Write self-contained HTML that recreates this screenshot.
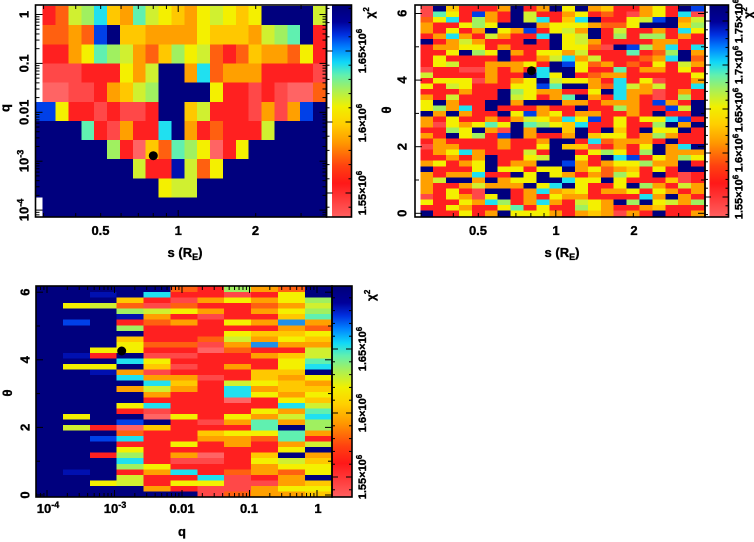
<!DOCTYPE html>
<html><head><meta charset="utf-8">
<style>
html,body{margin:0;padding:0;background:#fff;}
svg{display:block;}
text{font-family:"Liberation Sans",sans-serif;font-weight:bold;fill:#000;stroke:#000;stroke-width:0.35;}
</style></head><body>
<svg id="s" width="754" height="542" viewBox="0 0 754 542" xmlns="http://www.w3.org/2000/svg">
<defs>
<linearGradient id="cb" x1="0" y1="0" x2="0" y2="1">
<stop offset="0" stop-color="#000078"/>
<stop offset="0.08" stop-color="#00009a"/>
<stop offset="0.14" stop-color="#0030e0"/>
<stop offset="0.20" stop-color="#0080ff"/>
<stop offset="0.27" stop-color="#10d8f8"/>
<stop offset="0.33" stop-color="#60f0b0"/>
<stop offset="0.40" stop-color="#a8f058"/>
<stop offset="0.48" stop-color="#f0f000"/>
<stop offset="0.56" stop-color="#ffd000"/>
<stop offset="0.65" stop-color="#ff9800"/>
<stop offset="0.76" stop-color="#ff4010"/>
<stop offset="0.84" stop-color="#ff1818"/>
<stop offset="1" stop-color="#ff6060"/>
</linearGradient>
</defs>
<rect width="754" height="542" fill="#fff"/>
<g id="cells" shape-rendering="crispEdges"></g>
<rect x="332" y="5" width="19.5" height="212" fill="url(#cb)"/>
<rect x="709.5" y="5" width="19" height="212" fill="url(#cb)"/>
<rect x="332" y="286" width="20" height="211" fill="url(#cb)"/>
<g id="ticks" stroke="#000" stroke-width="1"></g>
<g fill="none" stroke="#000" stroke-width="1.6">
<rect x="35.5" y="5" width="291" height="212"/>
<rect x="326.5" y="5" width="25" height="212"/>
<rect x="415" y="5" width="290" height="212"/>
<rect x="705" y="5" width="23.5" height="212"/>
<rect x="36" y="286" width="296" height="211"/>
<rect x="332" y="286" width="20" height="211"/>
</g>
<circle cx="153.3" cy="155.7" r="4.5" fill="#000"/>
<circle cx="531.5" cy="70.7" r="4.5" fill="#000"/>
<circle cx="121.7" cy="351" r="4.5" fill="#000"/>

<!-- Panel 1 -->
<g font-size="13" text-anchor="middle">
<text transform="translate(28.5,14.5) rotate(-90)">1</text>
<text transform="translate(28.5,63.4) rotate(-90)">0.1</text>
<text transform="translate(28.5,112.3) rotate(-90)">0.01</text>
<text transform="translate(28.5,161) rotate(-90)">10<tspan font-size="9" dy="-5">-3</tspan></text>
<text transform="translate(28.5,210) rotate(-90)">10<tspan font-size="9" dy="-5">-4</tspan></text>
<text x="100.5" y="235">0.5</text>
<text x="178.2" y="235">1</text>
<text x="255.5" y="235">2</text>
<text x="185" y="257">s (R<tspan font-size="9" dy="3">E</tspan><tspan dy="-3">)</tspan></text>
<text transform="translate(9.5,108) rotate(-90)">q</text>
</g>
<g font-size="11" text-anchor="middle">
<text transform="translate(366,193) rotate(-90)">1.55×10<tspan font-size="8" dy="-4">6</tspan></text>
<text transform="translate(366,123) rotate(-90)">1.6×10<tspan font-size="8" dy="-4">6</tspan></text>
<text transform="translate(366,51) rotate(-90)">1.65×10<tspan font-size="8" dy="-4">6</tspan></text>
</g>
<text transform="translate(374,18.5) rotate(-90)" font-size="12">χ<tspan font-size="8" dy="-5">2</tspan></text>

<!-- Panel 2 -->
<g font-size="13" text-anchor="middle">
<text transform="translate(406.5,213.3) rotate(-90)">0</text>
<text transform="translate(406.5,146.7) rotate(-90)">2</text>
<text transform="translate(406.5,80) rotate(-90)">4</text>
<text transform="translate(406.5,13.3) rotate(-90)">6</text>
<text transform="translate(391,110) rotate(-90)">θ</text>
<text x="478" y="235">0.5</text>
<text x="556" y="235">1</text>
<text x="634" y="235">2</text>
<text x="562" y="257">s (R<tspan font-size="9" dy="3">E</tspan><tspan dy="-3">)</tspan></text>
</g>
<g font-size="11" text-anchor="middle">
<text transform="translate(742.5,197) rotate(-90)">1.55×10<tspan font-size="8" dy="-4">6</tspan></text>
<text transform="translate(742.5,153) rotate(-90)">1.6×10<tspan font-size="8" dy="-4">6</tspan></text>
<text transform="translate(742.5,110) rotate(-90)">1.65×10<tspan font-size="8" dy="-4">6</tspan></text>
<text transform="translate(742.5,65) rotate(-90)">1.7×10<tspan font-size="8" dy="-4">6</tspan></text>
<text transform="translate(742.5,21) rotate(-90)">1.75×10<tspan font-size="8" dy="-4">6</tspan></text>
</g>
<text transform="translate(752,18.5) rotate(-90)" font-size="12">χ<tspan font-size="8" dy="-5">2</tspan></text>

<!-- Panel 3 -->
<g font-size="13" text-anchor="middle">
<text transform="translate(29.7,495) rotate(-90)">0</text>
<text transform="translate(29.7,427.4) rotate(-90)">2</text>
<text transform="translate(29.7,359.8) rotate(-90)">4</text>
<text transform="translate(29.7,292.2) rotate(-90)">6</text>
<text transform="translate(12,393) rotate(-90)">θ</text>
<text x="48" y="513">10<tspan font-size="9" dy="-5">-4</tspan></text>
<text x="115" y="513">10<tspan font-size="9" dy="-5">-3</tspan></text>
<text x="182" y="513">0.01</text>
<text x="249" y="513">0.1</text>
<text x="318" y="513">1</text>
<text x="182" y="536">q</text>
</g>
<g font-size="11" text-anchor="middle">
<text transform="translate(366,477) rotate(-90)">1.55×10<tspan font-size="8" dy="-4">6</tspan></text>
<text transform="translate(366,413) rotate(-90)">1.6×10<tspan font-size="8" dy="-4">6</tspan></text>
<text transform="translate(366,349) rotate(-90)">1.65×10<tspan font-size="8" dy="-4">6</tspan></text>
</g>
<text transform="translate(375,301) rotate(-90)" font-size="12">χ<tspan font-size="8" dy="-5">2</tspan></text>
</svg>
<script>
(function(){
var NS="http://www.w3.org/2000/svg";
var pal={N:'#00007e',b:'#0010b0',B:'#0040e8',K:'#2090e8',C:'#20e0f0',A:'#60f0b0',G:'#a0f060',L:'#d0f030',Y:'#f4f000',D:'#ffc800',O:'#ffa000',Q:'#ff6010',R:'#ff2020',S:'#ff4848',P:'#ff6464',W:'#ffffff'};
var G=document.getElementById('cells');
function rect(x,y,w,h,c){var r=document.createElementNS(NS,'rect');r.setAttribute('x',x.toFixed(2));r.setAttribute('y',y.toFixed(2));r.setAttribute('width',(w+0.4).toFixed(2));r.setAttribute('height',(h+0.4).toFixed(2));r.setAttribute('fill',pal[c]||'#ff3030');G.appendChild(r);}

// Panel 1
var p1=[
"WRQLGCDOALYDOYLYDYNNNNL",
"WQQOQBNDDOOOOYDDDOLGANR",
"WRROYAGLOQDGYLQRQDOOQYR",
"WSSSRRRYOLNNOCQOOORRRRS",
"WPPSSRODLGNNNNYRRSRSPPQ",
"BBYRRSRSSRNNDLRRRSOSOBN",
"NNNNARSORRCNORQRRRLNNNN",
"NNNNNNGRPDQAGYPRYNNNNNN",
"NNNNNNNNLRRbLQYNNNNNNNN",
"NNNNNNNNNNYLLNNNNNNNNNN",
"WNNNNNNNNNNNNNNNNNNNNNN"];
var rh1=19.15;
for(var r=0;r<p1.length;r++){var row=p1[r];
 for(var c=0;c<row.length;c++){
  var x,w; if(c==0){x=36;w=6.7;}else{x=42.7+(c-1)*12.877;w=12.877;}
  rect(x,6+r*rh1,w,rh1,row[c]);}}

// Panel 2
var p2=[
"SNDRRRONRONYNODRROYRNB",
"SAYRBORNLRROYRQRSOYRCS",
"QYCRGORNLCRDCNRRYLBNOL",
"ORRYGYNNNOYYYOQQYNNNDG",
"ORYRONYOBRYLONRLRRORCY",
"ROCORLORRCNYLNRGRGGROR",
"NROLORRRNRNYLORRRROORR",
"ROOYYRORRRNYYQSNBGOCRC",
"RRYNGYNORYYOLRRRARQGNO",
"RYRRRRNRROLCOLRRRQOCNQ",
"RYLRROOOYRNBYQORQRYRLO",
"SRRSSORORCNNYRRAROORYR",
"LRRRRORRNCYNRQOORRRRRY",
"RYYYSOROYNLYYORCRYSRRO",
"YRLYRRRYYBANNOQCLOLRRC",
"RRRORRNGYOORRYNCOOSROR",
"ORLRRRNLYROANORCORSRGR",
"YNORRNNONNNOOROOORBORN",
"YGOCRNRRRORRNRRGORRBLN",
"NONORRNYBOYROORRORNRRN",
"ORYRROROLYOCYBRYRYYCBR",
"OSYOYAYNAGYDCRRYRRGNON",
"RRGYNOSNONNDNRNDRNYYNR",
"ORNYGRBNORRONDYYROGORR",
"RORRRRORRONNRCQOOORNRR",
"SOORRRORRYNDDSRORYNOCN",
"ROYCORRRLRNNRYGYRGNOOO",
"RRORONRRYLNNYRNCBRYOGY",
"OYROYNROONNBOROYYGOONR",
"NRRRYNYYRYYNOYQODRYRNN",
"OROOCRRNYNYOROQGYRNRSR",
"OLNNONOYYNNCYYNYRRRDSR",
"ORROLOOONYCNYRRYNGORLO",
"ORYRSNNROCODYROOYRYORO",
"SRYOSYNRORYOORRRRCONOR",
"YRRYOCGROCORLYONGNYLOG",
"RRYORRYARYRRGYORRODRRR",
"NRRYRONYYYORODOSORNRRO"];
var rh2=210/38, cw2=283.7/22;
for(var r=0;r<p2.length;r++){var row=p2[r];
 for(var c=0;c<row.length&&c<22;c++){rect(420.3+c*cw2,6+r*rh2,cw2,rh2,row[c]);}}

// Panel 3
var p3=[
"NNNNNQRGOQN","NNbNCRRSRYN","NNNDRSOYOYG","NYLQSQRRQOL","NNNGLYOROYG",
"NNNbORSRRDA","NBNRQORYOKO","NNNGRRRRROQ","NNNNRRRYDDY","NNNDRRQLOYD",
"NNNYQQSOKOO","NNYYRRPQRRL","NbRNSSRRODL","NNNCYRRRRYA","NYYNDSRORYC",
"NNbOSRRRDDN","NNNCOOSRDOY","NNNNCDRLYDO","NNNOLORCODD","NNNNORRCYOY",
"NNNNRRRPRYD","NNNYCRRRRCL","NNNRSRRRYOA","NYNNPYRYOLC","NNNBNRSOAOG",
"NLRPDRRRANG","NNNQRRDYYAO","NNBCRROOQAR","NNNRRYROROL","NNNYRRRRRYN",
"NNRGROPRDNO","NNNCRSSRYLD","NNNGYRRROYY","NbNROCRQOQY","NNNLRRCSRON",
"NNYLRYYSSOD","NNNNORSSOYY","NNNNNNSQOOD"];
var rh3=210.5/38, cw3=295.8/11;
for(var r=0;r<p3.length;r++){var row=p3[r];
 for(var c=0;c<row.length&&c<11;c++){rect(36+c*cw3,286.5+r*rh3,cw3,rh3,row[c]);}}

// ticks
var T=document.getElementById('ticks');
function L(x1,y1,x2,y2){var l=document.createElementNS(NS,'line');l.setAttribute('x1',x1.toFixed(2));l.setAttribute('y1',y1.toFixed(2));l.setAttribute('x2',x2.toFixed(2));l.setAttribute('y2',y2.toFixed(2));T.appendChild(l);}
var lg=function(v){return Math.log(v)/Math.LN10;};
for(var k=0;k<=5;k++){var ym=14.5+48.9*k;
 if(ym>5&&ym<217){L(35.5,ym,42.5,ym);L(326.5,ym,319.5,ym);}
 for(var m=2;m<=9;m++){var y=ym-48.9*lg(m); if(y>5&&y<217){L(35.5,y,39.5,y);L(326.5,y,322.5,y);}}}
var sv=[0.3,0.4,0.5,0.6,0.7,0.8,0.9,1,2,3];
sv.forEach(function(s){var len=s==1?7:4;
 var x=178.2+257.5*lg(s); if(x>36&&x<326){L(x,5,x,5+len);L(x,217,x,217-len);}
 var x2=555.8+257.5*lg(s); if(x2>415&&x2<705){L(x2,5,x2,5+len);L(x2,217,x2,217-len);}});
for(var t=0;t<=6;t++){var len=t%2==0?7:4;var y=213.3-33.3*t;L(415,y,415+len,y);L(705,y,705-len,y);
 var y3=495-33.8*t;L(36,y3,36+len,y3);L(332,y3,332-len,y3);}
for(var e=-5;e<=0;e++){var xm=182+67.5*(e+2);
 if(xm>36&&xm<332){L(xm,286,xm,293);L(xm,497,xm,490);}
 for(var m=2;m<=9;m++){var x=182+67.5*(e+2+lg(m)); if(x>36&&x<332){L(x,286,x,290);L(x,497,x,493);}}}
for(var i=-2;i<=16;i++){var y=193-14.2*i; if(y>5&&y<217){var len=(i%5==0)?6:3;L(326.5,y,326.5+len,y);L(351.5,y,351.5-len,y);}}
for(var i=-2;i<=25;i++){var y=197-8.8*i; if(y>5&&y<217){var len=(i%5==0)?6:3;L(705,y,705+len,y);L(728.5,y,728.5-len,y);}}
for(var i=-2;i<=16;i++){var y=477-12.8*i; if(y>286&&y<497){var len=(i%5==0)?6:3;L(332,y,332+len,y);L(352,y,352-len,y);}}
})();
</script>
</body></html>
